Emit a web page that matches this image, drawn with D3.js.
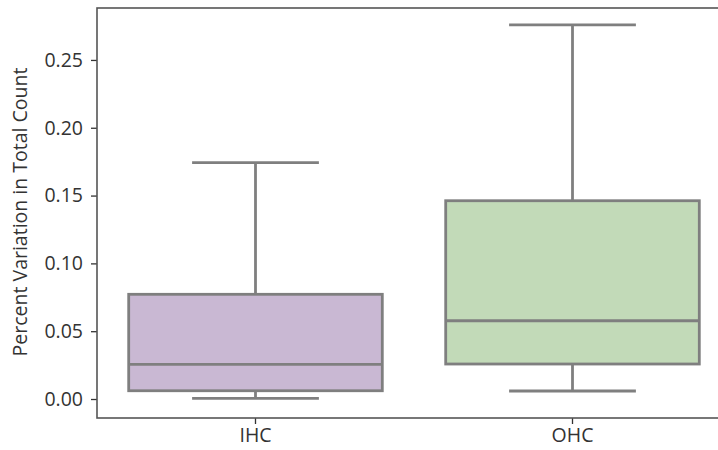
<!DOCTYPE html>
<html><head><meta charset="utf-8">
<script src="https://cdn.jsdelivr.net/npm/d3@7"></script>
<style>body{margin:0;background:#fff}svg{display:block}</style>
</head><body>
<svg id="c" width="718" height="450"></svg>
<script>
const categories = ["IHC", "OHC"];
const whiskerLow = [0.0005, 0.0059];
const q1 = [0.0061, 0.0258];
const median = [0.0256, 0.0577];
const q3 = [0.0772, 0.1462];
const whiskerHigh = [0.1743, 0.2758];
const fills = ["#c9b8d3", "#c2dab8"];
const yTicks = [0.00, 0.05, 0.10, 0.15, 0.20, 0.25];
const yLabel = "Percent Variation in Total Count";

const svg = d3.select("#c");
const mLeft = 97, mRight = 731, mTop = 8, mBottom = 418;
const font = "'Open Sans', sans-serif";

const x = d3.scaleBand().domain(categories).range([mLeft, mRight]).paddingInner(0).paddingOuter(0);
const y = d3.scaleLinear().domain([-0.0140, 0.2883]).range([mBottom, mTop]);

const lineCol = "#7f7f7f";
const lw = 2.8;
const g = svg.append("g");
categories.forEach((c, i) => {
  const cx = x(c) + x.bandwidth() / 2;
  const bw = x.bandwidth() * 0.8;
  const cw = bw / 2;
  g.append("line").attr("x1", cx).attr("x2", cx).attr("y1", y(q3[i])).attr("y2", y(whiskerHigh[i]))
    .attr("stroke", lineCol).attr("stroke-width", lw);
  g.append("line").attr("x1", cx).attr("x2", cx).attr("y1", y(q1[i])).attr("y2", y(whiskerLow[i]))
    .attr("stroke", lineCol).attr("stroke-width", lw);
  g.append("line").attr("x1", cx - cw / 2).attr("x2", cx + cw / 2).attr("y1", y(whiskerHigh[i])).attr("y2", y(whiskerHigh[i]))
    .attr("stroke", lineCol).attr("stroke-width", lw);
  g.append("line").attr("x1", cx - cw / 2).attr("x2", cx + cw / 2).attr("y1", y(whiskerLow[i])).attr("y2", y(whiskerLow[i]))
    .attr("stroke", lineCol).attr("stroke-width", lw);
  g.append("rect").attr("x", cx - bw / 2).attr("width", bw)
    .attr("y", y(q3[i])).attr("height", y(q1[i]) - y(q3[i]))
    .attr("fill", fills[i]).attr("stroke", lineCol).attr("stroke-width", lw);
  g.append("line").attr("x1", cx - bw / 2).attr("x2", cx + bw / 2).attr("y1", y(median[i])).attr("y2", y(median[i]))
    .attr("stroke", lineCol).attr("stroke-width", lw);
});

const yAxis = svg.append("g").attr("transform", `translate(${mLeft},0)`)
  .call(d3.axisLeft(y).tickValues(yTicks).tickFormat(d3.format(".2f")).tickSize(6).tickPadding(8));
yAxis.select(".domain").remove();
yAxis.selectAll(".tick line").attr("stroke", "#333").attr("stroke-width", 1.3);
yAxis.selectAll(".tick text").attr("font-family", font).attr("font-size", 19.5).attr("fill", "#333");

const xAxis = svg.append("g").attr("transform", `translate(0,${mBottom})`)
  .call(d3.axisBottom(x).tickSize(6).tickPadding(4));
xAxis.select(".domain").remove();
xAxis.selectAll(".tick line").attr("stroke", "#333").attr("stroke-width", 1.3);
xAxis.selectAll(".tick text").attr("font-family", font).attr("font-size", 19.5).attr("fill", "#333");

svg.append("rect").attr("x", mLeft).attr("y", mTop).attr("width", mRight - mLeft).attr("height", mBottom - mTop)
  .attr("fill", "none").attr("stroke", "#555").attr("stroke-width", 1.6);

svg.append("text").attr("transform", `translate(27,212) rotate(-90)`)
  .attr("text-anchor", "middle").attr("font-family", font).attr("font-size", 19.5).attr("fill", "#333")
  .text(yLabel);
</script>
</body></html>
